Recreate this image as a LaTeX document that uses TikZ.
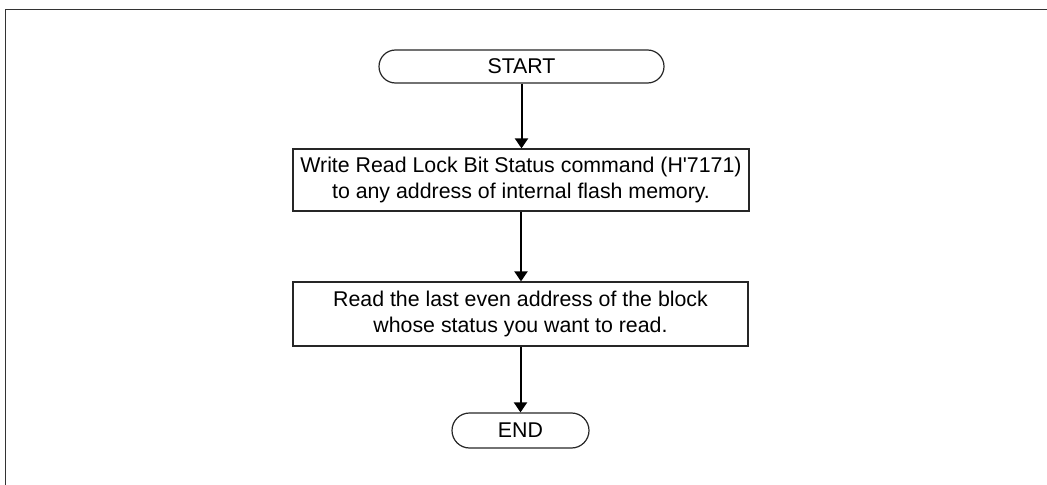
\documentclass[tikz,border=0pt]{standalone}
\usepackage{fontspec}
\setmainfont{Liberation Sans}[Ligatures=TeXOff]
\usetikzlibrary{shapes.misc,arrows.meta}
\tikzset{
  frameline/.style={draw=black!80, line width=1.4pt},
  terminal/.style={rounded rectangle, draw=black!85, line width=0.9pt, inner sep=0pt, font=\fontsize{16pt}{19pt}\selectfont},
  procbox/.style={rectangle, draw=black!85, line width=0.9pt, inner sep=0pt, align=center, font=\fontsize{16pt}{19.5pt}\selectfont},
  flow/.style={draw=black, line width=1.5pt, -{Triangle[length=7.5pt,width=9.75pt]}}
}
\begin{document}
\begin{tikzpicture}[x=0.75pt,y=-0.75pt]
\useasboundingbox (0,0) rectangle (1047,485);
\coordinate (ftl) at (5.5,9.5);
\coordinate (ftr) at (1047,9.5);
\coordinate (fbl) at (5.5,485);
\draw[frameline] (ftr) -- (ftl) -- (fbl);
\node[terminal, minimum width=213.75pt, minimum height=24.75pt] (start) at (521.5,66.5) {START};
\node[procbox, minimum width=342pt, minimum height=46.5pt] (w) at (521,180) {Write Read Lock Bit Status command (H'7171)\\to any address of internal flash memory.};
\node[procbox, minimum width=341.25pt, minimum height=48pt] (r) at (520.5,314) {Read the last even address of the block\\whose status you want to read.};
\node[terminal, minimum width=102.75pt, minimum height=26.25pt] (end) at (520.5,430.5) {END};
\draw[flow] (start.south) -- (start.south |- w.north);
\draw[flow] (w.south) -- (w.south |- r.north);
\draw[flow] (r.south) -- (r.south |- end.north);
\end{tikzpicture}
\end{document}
